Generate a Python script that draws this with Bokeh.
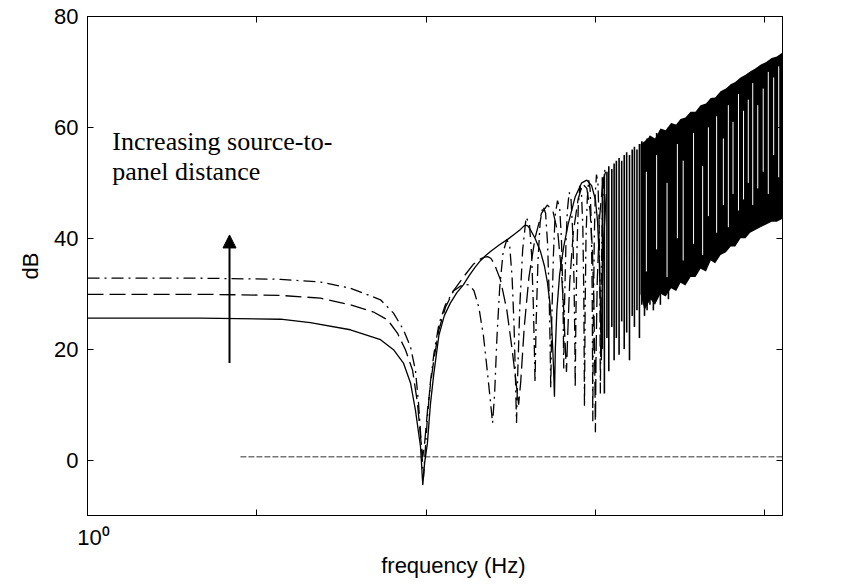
from bokeh.plotting import figure
from bokeh.models import Range1d, FixedTicker, LinearAxis, LogAxis, Label, Arrow, NormalHead
from bokeh.embed import file_html
from bokeh.resources import INLINE

# ---- data (frequency in Hz, level in dB) ----
solid_f = [1, 4.65, 13.8, 20.7, 35.7, 53.8, 64.2, 73.5, 80.9, 86.5, 92.7, 95.6, 98, 101.8, 106, 111, 119, 128, 139,
           152, 166, 180, 195, 210, 225, 240, 270, 303, 335, 361, 375, 387, 400, 414, 440, 474, 500, 521, 540, 552,
           560, 566, 573, 580, 592, 615, 650, 690, 760, 830, 890, 950, 1000, 1030, 1055, 1072, 1085, 1095, 1120,
           1160]
solid_db = [25.6, 25.6, 25.4, 24.8, 23.5, 21.7, 19.9, 17.5, 13.9, 9.0, 2.4, -4.5, -0.5, 3, 10, 15.5, 22.5, 26, 28.3,
            30.2, 31.6, 33.3, 34.8, 36.0, 36.9, 37.6, 38.8, 39.8, 40.8, 41.6, 42.1, 42.4, 42.2, 41.5, 40, 37.6, 35,
            32, 28, 24, 20, 16.5, 11.4, 20, 27, 33.5, 38.5, 42.5, 47.5, 50, 50.5, 49.5, 47, 43, 36, 27, 18, 28, 40,
            48]

dashed_f = [1, 4.65, 13.8, 23.8, 35.7, 48.9, 59.2, 67.7, 75.5, 83.2, 88.9, 93.5, 95.5, 98, 102, 106, 111, 119, 130,
            145, 166, 190, 210, 222, 231, 241, 252, 275, 300, 322, 340, 352, 362, 380, 405, 440, 480, 520, 560, 600,
            630, 650, 665, 675, 685, 705, 740, 790, 840, 890, 930, 960, 980, 993, 1000, 1008, 1025, 1060, 1110, 1150]
dashed_db = [29.9, 29.9, 29.7, 29.2, 28.0, 26.7, 25.3, 22.9, 19.9, 16.2, 10.3, 3, 0.5, 3, 9, 13.5, 18, 23.5, 27.5,
             30.5, 33, 35.3, 36.3, 36.6, 36.7, 36.4, 35.5, 32.5, 27, 20, 14, 10, 14, 24, 33, 40, 44.5, 46, 45, 41,
             34, 27, 20, 15.9, 22, 32, 41, 47, 49.8, 49, 45, 38, 28, 15, 5, 18, 32, 44, 50.5, 52]

dashdot_f = [1, 4.65, 13.8, 23.8, 35.7, 53.8, 64.2, 73.5, 80.9, 86.5, 90.2, 94.0, 96.5, 99, 102, 106, 111, 119, 130,
             145, 160, 170, 178, 186, 192, 205, 218, 230, 240, 247, 254, 262, 272, 285, 300, 312, 322, 331, 337, 342,
             348, 358, 372, 390, 408, 420, 430, 436, 440, 446, 458, 472, 490, 508, 522, 533, 540, 545, 552, 565, 578,
             597, 615, 630, 640, 646, 650, 657, 670, 683, 700, 718, 735, 748, 756, 760, 767, 780, 793, 810, 828, 843,
             854, 858, 862, 869, 880, 895, 912, 930, 945, 957, 962, 965, 972, 985, 998, 1015, 1035, 1050, 1062, 1067,
             1070, 1080, 1100, 1120, 1140]
dashdot_db = [32.8, 32.8, 32.6, 32.1, 31.0, 28.9, 26.5, 23.5, 20.4, 16.2, 10.3, 2.3, -3.1, 2, 8, 14, 19, 24.5, 28,
              30.5, 31.4, 31.7, 31.6, 31.1, 30.5, 27.5, 22.5, 16, 10.5, 6.7, 12, 22, 31, 37.5, 39.8, 38.5, 33, 24,
              15, 6.7, 16, 28, 38, 43.8, 42.5, 37, 28, 20, 14, 24, 36, 43, 45.8, 44.5, 39, 30, 21, 13, 25, 37, 44,
              46.8, 45.5, 40, 32, 25, 16.5, 28, 39, 45, 48.3, 47, 41, 32, 22, 13, 26, 39, 46, 49.5, 48, 42, 30, 20,
              9.6, 26, 40, 47, 50.5, 49, 43, 31, 18, 7, 25, 40, 48, 51.5, 50, 44, 32, 20, 12,
              30, 45, 51, 52.5]

# individual narrow notches between about 1.1 kHz and 2.7 kHz
spike_f = [1100, 1130, 1170, 1200, 1250, 1290, 1330, 1380, 1430, 1480, 1530, 1590, 1650, 1700, 1760, 1820,
           1880, 1950, 2020, 2100, 2200, 2300, 2420, 2550, 2700]
spike_lo = [20, 12, 22, 16, 24, 18, 22, 19, 25, 20, 23, 18, 26, 24, 27, 22, 28, 26, 27, 28, 27, 29, 28, 30, 29]
spike_hi = [51, 51.5, 52, 53, 52.5, 53.5, 54, 54.5, 54, 55, 55.5, 55, 56, 56.5, 56, 57, 57.5, 57, 58, 58.5,
            58, 59, 59.5, 59, 60]

# the dense black band above about 1.9 kHz
band_f = [1846, 1950, 2115, 2250, 2424, 2600, 2800, 3000, 3183, 3400, 3650, 3900, 4180, 4500, 4800, 5100, 5487,
          5900, 6300, 6700, 7200, 7700, 8200, 8800, 9440, 10200, 11000, 11800, 12740]
band_lo = [30, 27, 29, 28, 30, 29.5, 31, 30.5, 32, 31.5, 33, 33, 34.5, 34, 36, 35.5, 37, 37.5, 38.5, 38.5, 40, 40,
           41, 41.5, 42, 42.5, 43, 43, 43.5]
band_hi = [57, 57.5, 58.5, 58, 59.8, 59.5, 60.8, 60.5, 61.5, 61.8, 62.8, 62.8, 64, 64.3, 65.3, 65.4, 66.5, 67,
           67.8, 68.2, 69, 69.5, 70.1, 70.6, 71.3, 71.8, 72.5, 72.8, 73.5]

# thin light gaps seen inside the black band
gap_f = [2000, 2300, 2650, 3050, 3300, 3800, 4300, 4650, 5200, 5700, 6100, 6500, 7000, 7500, 8000, 8500, 9100,
         9800, 10500, 11300, 12100]
gap_lo = [34, 38, 33, 40, 36, 39, 37, 44, 41, 46, 42, 48, 45, 47, 50, 46, 49, 52, 48, 55, 51]
gap_hi = [52, 55, 50, 57, 54, 59, 53, 60, 62, 58, 64, 61, 66, 63, 65, 68, 64, 67, 70, 69, 71]

zero_f = [8, 12740]
zero_db = [0.6, 0.6]

arrow_f = 6.9
arrow_db = [17.5, 40.6]

y_ticks = [0, 20, 40, 60, 80]
x_ticks = [1, 10, 100, 1000, 10000]
NB = "\u00a0"
x_tick_labels = {1: NB * 2 + "10\u2070", 10: " ", 100: " ", 1000: " ", 10000: " "}
x_title = NB * 6 + "frequency (Hz)"

TICK_FONT = "Liberation Sans"
FS = "22px"

p = figure(x_axis_type="log", x_range=Range1d(1, 12740), y_range=Range1d(-10, 80),
           frame_width=695, frame_height=499,
           min_border_left=87, min_border_right=75, min_border_top=16, min_border_bottom=70,
           output_backend="svg", toolbar_location=None, background_fill_color="white",
           border_fill_color="white")
p.grid.visible = False
p.outline_line_color = "black"
p.outline_line_width = 1

for ax in (p.xaxis[0], p.yaxis[0]):
    ax.major_tick_in = 6
    ax.major_tick_out = 0
    ax.minor_tick_in = 0
    ax.minor_tick_out = 0
    ax.axis_line_color = "black"
    ax.major_tick_line_color = "black"
    ax.major_label_text_font = TICK_FONT
    ax.major_label_text_font_size = FS
    ax.major_label_text_color = "black"
    ax.axis_label_text_font = TICK_FONT
    ax.axis_label_text_font_size = FS
    ax.axis_label_text_font_style = "normal"
    ax.axis_label_text_color = "black"

p.xaxis[0].ticker = FixedTicker(ticks=x_ticks)
p.xaxis[0].major_label_overrides = x_tick_labels
p.xaxis[0].axis_label = x_title
p.xaxis[0].major_label_standoff = 9
p.xaxis[0].axis_label_standoff = 0
p.yaxis[0].ticker = FixedTicker(ticks=y_ticks)
p.yaxis[0].axis_label = "dB"
p.yaxis[0].major_label_standoff = 9
p.yaxis[0].axis_label_standoff = 8

top = LogAxis(ticker=FixedTicker(ticks=x_ticks), major_tick_in=6, major_tick_out=0, minor_tick_in=0,
              minor_tick_out=0, major_label_text_font_size="2px", major_label_text_alpha=0,
              major_label_standoff=0, axis_line_color="black")
right = LinearAxis(ticker=FixedTicker(ticks=y_ticks), major_tick_in=6, major_tick_out=0, minor_tick_in=0,
                   minor_tick_out=0, major_label_text_font_size="2px", major_label_text_alpha=0,
                   major_label_standoff=0, axis_line_color="black")
p.add_layout(top, "above")
p.add_layout(right, "right")

# zero reference line
p.line(zero_f, zero_db, line_color="#777777", line_width=1.5, line_dash="6 2")

# dense high-frequency region
p.segment(x0=spike_f, y0=spike_lo, x1=spike_f, y1=spike_hi, line_color="black", line_width=1.6)
p.varea(x=band_f, y1=band_lo, y2=band_hi, fill_color="black")
p.segment(x0=gap_f, y0=gap_lo, x1=gap_f, y1=gap_hi, line_color="white", line_width=1)

# three curves
p.line(solid_f, solid_db, line_color="black", line_width=1.3)
p.line(dashed_f, dashed_db, line_color="black", line_width=1.3, line_dash="16 6")
p.line(dashdot_f, dashdot_db, line_color="black", line_width=1.3, line_dash="12 5 2 5")

p.add_layout(Arrow(end=NormalHead(size=13, fill_color="black", line_color="black"),
                   x_start=arrow_f, y_start=arrow_db[0], x_end=arrow_f, y_end=arrow_db[1],
                   line_width=2, line_color="black"))

p.add_layout(Label(x=1.40, y=57.5, text="Increasing source-to-", text_font="Liberation Serif",
                   text_font_size="26px", text_baseline="alphabetic", text_color="black"))
p.add_layout(Label(x=1.40, y=52.1, text="panel distance", text_font="Liberation Serif",
                   text_font_size="26px", text_baseline="alphabetic", text_color="black"))

open("out.html", "w").write(file_html(p, INLINE))
